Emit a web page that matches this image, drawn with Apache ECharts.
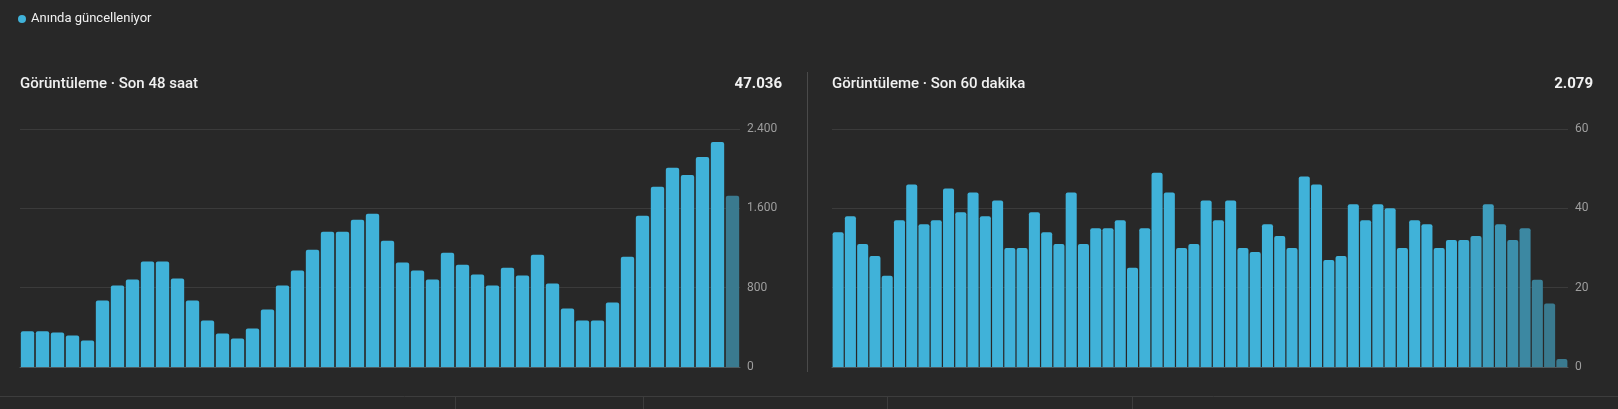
<!DOCTYPE html>
<html>
<head>
<meta charset="utf-8">
<script src="https://cdn.jsdelivr.net/npm/echarts@6/dist/echarts.min.js"></script>
<style>
  html, body { margin: 0; padding: 0; background: #282828; }
  #chart { width: 1618px; height: 409px; }
</style>
</head>
<body>
<div id="chart"></div>
<script>
// son 48 saat, saatlik görüntüleme
var hourViews = [360, 360, 349, 318, 268, 670, 821, 882, 1063, 1063,
    892, 670, 469, 339, 288, 389, 580, 821, 972, 1183,
    1364, 1364, 1485, 1545, 1274, 1053, 972, 882, 1153, 1032,
    932, 821, 1002, 922, 1133, 841, 590, 469, 469, 650,
    1113, 1525, 1817, 2008, 1937, 2118, 2269, 1726];
// son 60 dakika, dakikalık görüntüleme
var minuteViews = [34, 38, 31, 28, 23, 37, 46, 36, 37, 45,
    39, 44, 38, 42, 30, 30, 39, 34, 31, 44,
    31, 35, 35, 37, 25, 35, 49, 44, 30, 31,
    42, 37, 42, 30, 29, 36, 33, 30, 48, 46,
    27, 28, 41, 37, 41, 40, 30, 37, 36, 30,
    32, 32, 33, 41, 36, 32, 35, 22, 16, 2];
var hourTicks = [0, 800, 1600, 2400];
var minuteTicks = [0, 20, 40, 60];
var hourTotal = '47.036';
var minuteTotal = '2.079';
var liveLabel = 'Anında güncelleniyor';
var hourTitle = 'Görüntüleme · Son 48 saat';
var minuteTitle = 'Görüntüleme · Son 60 dakika';

var hourCats = hourViews.map(function (v, i) { return 'h' + i; });
var minuteCats = minuteViews.map(function (v, i) { return 'm' + i; });

var BRIGHT = [64, 178, 217];
var DARK = [58, 122, 143];

function mix(t) {
    var c = BRIGHT.map(function (b, k) { return Math.round(b + (DARK[k] - b) * t); });
    return 'rgb(' + c.join(',') + ')';
}

function fmt(v) {
    return String(v).replace(/\B(?=(\d{3})+(?!\d))/g, '.');
}

var myChart = echarts.init(document.getElementById('chart'));

var hourData = hourViews.map(function (v, i) {
    return { value: v, itemStyle: { color: i === hourViews.length - 1 ? mix(1) : mix(0) } };
});
var minuteData = minuteViews.map(function (v, i) {
    // son dakikalar giderek koyulaşıyor
    var t = Math.max(0, Math.min(1, (i - 50) / 8));
    return { value: v, itemStyle: { color: mix(t) } };
});

function yAxisFor(gridIndex, ticks, margin) {
    return {
        gridIndex: gridIndex,
        type: 'value',
        position: 'right',
        min: ticks[0],
        max: ticks[ticks.length - 1],
        interval: ticks[1] - ticks[0],
        axisLine: { show: false },
        axisTick: { show: false },
        axisLabel: {
            margin: margin,
            color: '#9e9e9e',
            fontSize: 12,
            fontFamily: 'Roboto',
            formatter: function (v) { return fmt(v); }
        },
        splitLine: { lineStyle: { color: '#3b3b3b', width: 1 } }
    };
}

function xAxisFor(gridIndex, cats) {
    return {
        gridIndex: gridIndex,
        type: 'category',
        data: cats,
        axisLine: { show: true, lineStyle: { color: '#4e5a5f', width: 1 } },
        axisTick: { show: false },
        axisLabel: { show: false }
    };
}

function txt(x, y, text, opts) {
    return {
        type: 'text',
        style: {
            x: x, y: y, text: text,
            fill: opts.fill || '#f1f1f1',
            font: opts.font,
            textAlign: opts.align || 'left',
            textVerticalAlign: 'middle'
        }
    };
}

var option = {
    backgroundColor: '#282828',
    animation: false,
    grid: [
        { left: 20, top: 129, width: 720, height: 238, outerBoundsMode: 'none' },
        { left: 832, top: 129, width: 736, height: 238, outerBoundsMode: 'none' }
    ],
    xAxis: [xAxisFor(0, hourCats), xAxisFor(1, minuteCats)],
    yAxis: [yAxisFor(0, hourTicks, 7), yAxisFor(1, minuteTicks, 7)],
    series: [{
        type: 'bar',
        xAxisIndex: 0,
        yAxisIndex: 0,
        data: hourData,
        barCategoryGap: '11%',
        itemStyle: { borderRadius: [2, 2, 0, 0] }
    }, {
        type: 'bar',
        xAxisIndex: 1,
        yAxisIndex: 1,
        data: minuteData,
        barCategoryGap: '10%',
        itemStyle: { borderRadius: [2, 2, 0, 0] }
    }],
    graphic: [
        { type: 'circle', shape: { cx: 22, cy: 19, r: 4 }, style: { fill: '#40b2d9' } },
        txt(31, 19, liveLabel, { font: '13px Roboto' }),
        txt(20, 84, hourTitle, { font: '500 15px Roboto' }),
        txt(782, 84, hourTotal, { font: 'bold 15px Roboto', align: 'right' }),
        txt(832, 84, minuteTitle, { font: '500 15px Roboto' }),
        txt(1593, 84, minuteTotal, { font: 'bold 15px Roboto', align: 'right' }),
        { type: 'line', shape: { x1: 807.5, y1: 72, x2: 807.5, y2: 372 }, style: { stroke: '#4a4a4a', lineWidth: 1 } },
        { type: 'line', shape: { x1: 0, y1: 396.5, x2: 1618, y2: 396.5 }, style: { stroke: '#3d3d3d', lineWidth: 1 } },
        { type: 'line', shape: { x1: 455.5, y1: 397, x2: 455.5, y2: 409 }, style: { stroke: '#3d3d3d', lineWidth: 1 } },
        { type: 'line', shape: { x1: 643.5, y1: 397, x2: 643.5, y2: 409 }, style: { stroke: '#3d3d3d', lineWidth: 1 } },
        { type: 'line', shape: { x1: 887.5, y1: 397, x2: 887.5, y2: 409 }, style: { stroke: '#3d3d3d', lineWidth: 1 } },
        { type: 'line', shape: { x1: 1132.5, y1: 397, x2: 1132.5, y2: 409 }, style: { stroke: '#3d3d3d', lineWidth: 1 } }
    ]
};

myChart.setOption(option);
</script>
</body>
</html>
